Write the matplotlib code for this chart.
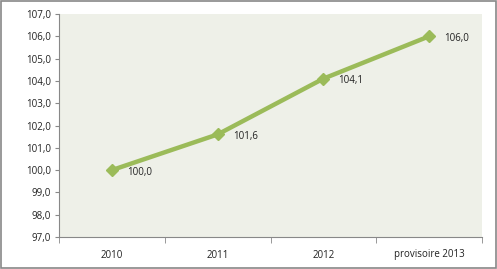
import matplotlib.pyplot as plt
from matplotlib.patches import Rectangle

plt.rcParams['font.family'] = "sans-serif"
plt.rcParams['font.sans-serif'] = "Open Sans"

annees = ['2010', '2011', '2012', 'provisoire 2013']
indice = [100.0, 101.6, 104.1, 106.0]
labels = ['100,0', '101,6', '104,1', '106,0']
yticks = [97, 98, 99, 100, 101, 102, 103, 104, 105, 106, 107]

fig = plt.figure(figsize=(4.97, 2.69), dpi=100)
ax = fig.add_axes([59/497, 1 - 237/269, 423/497, 223/269])
ax.set_facecolor('#eef0e8')

x = list(range(len(annees)))
ax.plot(x, indice, color='#9bbb59', linewidth=3.2, marker='D', markersize=6.5,
        solid_capstyle='round')
for xi, yi, lab in zip(x, indice, labels):
    ax.annotate(lab, (xi, yi), xytext=(11, -1.5), textcoords='offset points',
                fontsize=7, color='#222222', va='center', ha='left')

ax.set_xlim(-0.5, len(annees) - 0.5)
ax.set_ylim(97, 107)
ax.set_yticks(yticks)
ax.set_yticklabels([f'{v:.1f}'.replace('.', ',') for v in yticks], fontsize=7, color='#222222')
ax.set_xticks(x)
ax.set_xticklabels(annees, fontsize=7, color='#222222')
ax.tick_params(axis='x', length=0, pad=9)
ax.set_xticks([i + 0.5 for i in range(-1, len(annees))], minor=True)
ax.tick_params(axis='x', which='minor', length=4, color='#888888', direction='out')
ax.tick_params(axis='y', length=3, color='#888888', direction='out', pad=3)

for s in ['top', 'right']:
    ax.spines[s].set_visible(False)
for s in ['left', 'bottom']:
    ax.spines[s].set_color('#888888')
    ax.spines[s].set_linewidth(0.8)

fig.patches.append(Rectangle((0.002, 0.004), 0.995, 0.992, transform=fig.transFigure,
                             fill=False, edgecolor='#888888', linewidth=1.2))

fig.savefig('out.png', dpi=100)
